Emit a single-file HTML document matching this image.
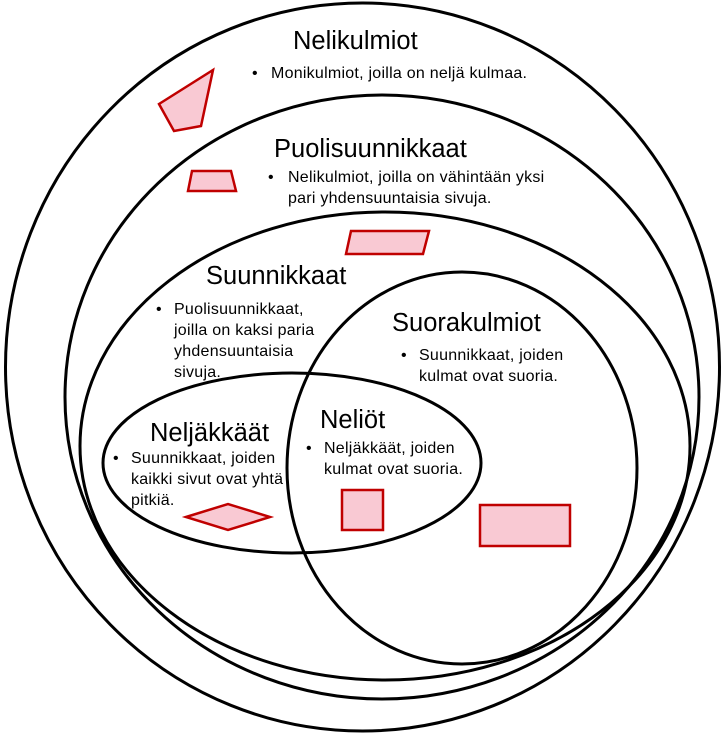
<!DOCTYPE html>
<html><head><meta charset="utf-8"><style>
html,body{margin:0;padding:0;background:#fff}
svg{display:block}
text{font-family:"Liberation Sans",Arial,sans-serif;fill:#000}
.t{font-size:25.5px}
.b{font-size:16px;letter-spacing:0.25px}
</style></head><body>
<svg width="727" height="735" viewBox="0 0 727 735">
<g fill="none" stroke="#000" stroke-width="3">
<ellipse cx="362.5" cy="367" rx="357" ry="364"/>
<ellipse cx="382" cy="397" rx="317" ry="302"/>
<ellipse cx="385" cy="446" rx="305" ry="234"/>
<ellipse cx="462" cy="468" rx="175" ry="196"/>
<ellipse cx="292" cy="463" rx="189" ry="90"/>
</g>
<g fill="#f9c9d3" stroke="#c00000" stroke-width="2.5" stroke-linejoin="miter">
<polygon points="159,104 213,70 201,126 174,131"/>
<polygon points="192,171 231,171 236,191 188,191"/>
<polygon points="351,231 429,231 423,254 346,254"/>
<polygon points="186,517 228,504 270,517 228,530"/>
<rect x="342" y="490" width="41" height="40"/>
<rect x="480" y="505" width="90" height="41"/>
</g>
<text class="t" x="293" y="49">Nelikulmiot</text>
<text class="b" x="252" y="78">•</text><text class="b" x="271" y="78">Monikulmiot, joilla on neljä kulmaa.</text>
<text class="t" x="274" y="157">Puolisuunnikkaat</text>
<text class="b" x="268" y="182">•</text><text class="b" x="288" y="182">Nelikulmiot, joilla on vähintään yksi</text>
<text class="b" x="288" y="203">pari yhdensuuntaisia sivuja.</text>
<text class="t" x="206" y="284">Suunnikkaat</text>
<text class="b" x="156" y="314">•</text>
<text class="b" x="174" y="314">Puolisuunnikkaat,</text>
<text class="b" x="174" y="335">joilla on kaksi paria</text>
<text class="b" x="174" y="356">yhdensuuntaisia</text>
<text class="b" x="174" y="377">sivuja.</text>
<text class="t" x="392" y="331">Suorakulmiot</text>
<text class="b" x="401" y="360">•</text>
<text class="b" x="419" y="360">Suunnikkaat, joiden</text>
<text class="b" x="419" y="381">kulmat ovat suoria.</text>
<text class="t" x="150" y="441">Neljäkkäät</text>
<text class="b" x="113" y="463">•</text>
<text class="b" x="131" y="463">Suunnikkaat, joiden</text>
<text class="b" x="131" y="484">kaikki sivut ovat yhtä</text>
<text class="b" x="131" y="505">pitkiä.</text>
<text class="t" x="320" y="428">Neliöt</text>
<text class="b" x="306" y="453">•</text>
<text class="b" x="324" y="453">Neljäkkäät, joiden</text>
<text class="b" x="324" y="474">kulmat ovat suoria.</text>
</svg>
</body></html>
